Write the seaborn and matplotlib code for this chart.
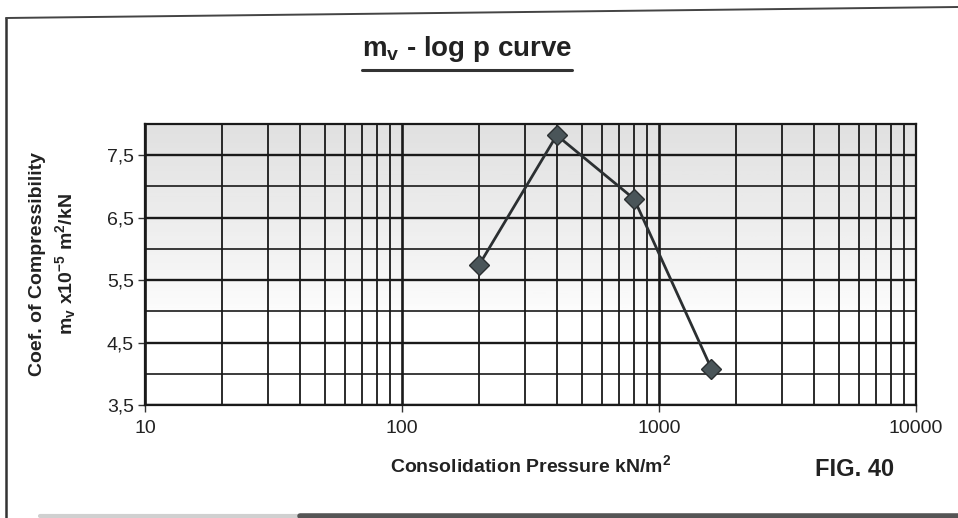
import numpy as np
import pandas as pd
import matplotlib
matplotlib.use("Agg")
import matplotlib.pyplot as plt
from matplotlib.lines import Line2D
from matplotlib.ticker import FixedLocator, NullFormatter
import seaborn as sns

# Consolidation test results
pressure = [200, 400, 800, 1600]          # kN/m^2
mv = [5.75, 7.82, 6.80, 4.08]             # x10^-5 m^2/kN

x_ticks = [10, 100, 1000, 10000]
x_tick_labels = ["10", "100", "1000", "10000"]
y_ticks = [3.5, 4.5, 5.5, 6.5, 7.5]
y_tick_labels = ["3,5", "4,5", "5,5", "6,5", "7,5"]

df = pd.DataFrame({"pressure": pressure, "mv": mv})

sns.set_theme(style="white")
plt.rcParams["font.family"] = ["Liberation Sans", "DejaVu Sans"]
plt.rcParams["mathtext.fontset"] = "custom"
plt.rcParams["mathtext.rm"] = "Liberation Sans:bold"
plt.rcParams["mathtext.it"] = "Liberation Sans:bold"
plt.rcParams["mathtext.bf"] = "Liberation Sans:bold"

W, H = 958, 518
fig = plt.figure(figsize=(W / 100, H / 100), dpi=100)
fig.patch.set_facecolor("white")
ax = fig.add_axes([145 / W, 1 - 405 / H, (916 - 145) / W, (405 - 124) / H])

# faint grey tone over the upper half of the grid
grad = np.linspace(0, 1, 200).reshape(-1, 1)
shade = np.clip((grad - 0.30) / 0.70, 0, 1) ** 0.8 * 0.20
rgba = np.zeros((200, 1, 4))
rgba[..., :3] = 0.40
rgba[..., 3] = shade
ax.imshow(rgba, extent=[10, 10000, 3.5, 8.0], aspect="auto", origin="lower",
          zorder=0, interpolation="bilinear")

sns.lineplot(data=df, x="pressure", y="mv", ax=ax, color="#2b2f31", lw=2.0,
             marker="D", markersize=10, markerfacecolor="#4a5559",
             markeredgecolor="#2b2f31", markeredgewidth=1.0, zorder=5)

ax.set_xscale("log")
ax.set_xlim(10, 10000)
ax.set_ylim(3.5, 8.0)

# log grid: every integer multiple inside each decade
vlines = [m * 10 ** e for e in range(1, 4) for m in range(1, 10)] + [10000]
for v in vlines:
    major = v in x_ticks
    ax.axvline(v, color="#1a1a1a", lw=1.9 if major else 1.3, zorder=1)
for h in np.arange(3.5, 8.01, 0.5):
    major = abs((h - 3.5) % 1.0) < 1e-6
    ax.axhline(h, color="#1a1a1a", lw=1.7 if major else 1.2, zorder=1)

ax.xaxis.set_major_locator(FixedLocator(x_ticks))
ax.xaxis.set_minor_locator(FixedLocator([]))
ax.xaxis.set_minor_formatter(NullFormatter())
ax.set_xticklabels(x_tick_labels)
ax.set_yticks(y_ticks)
ax.set_yticklabels(y_tick_labels)

ax.tick_params(axis="both", which="major", direction="out", length=5, width=1,
               color="#333333", labelsize=14, labelcolor="#222222",
               bottom=True, left=True)
ax.tick_params(axis="x", pad=6)
ax.tick_params(axis="y", pad=3)
for s in ax.spines.values():
    s.set_color("#1a1a1a")
    s.set_linewidth(1.6)

ax.set_xlabel("Consolidation Pressure kN/m$^{2}$", fontsize=14, fontweight="bold",
              color="#222222", labelpad=12)
ax.set_ylabel("Coef. of Compressibility\nm$_{v}$ x10$^{-5}$ m$^{2}$/kN", fontsize=14,
              fontweight="bold", color="#222222", labelpad=21, linespacing=1.35)

# title with underline
title = fig.text(467 / W, 1 - 49 / H, "m$_{v}$ - log p curve", ha="center", va="center",
                 fontsize=20, fontweight="bold", color="#222222")
fig.canvas.draw()
bb = title.get_window_extent().transformed(fig.transFigure.inverted())
fig.add_artist(Line2D([bb.x0, bb.x1], [1 - 70 / H, 1 - 70 / H], color="#333333", lw=2.2,
                      transform=fig.transFigure))

fig.text(855 / W, 1 - 470 / H, "FIG. 40", ha="center", va="center", fontsize=17,
         fontweight="bold", color="#222222")

# page frame
fig.add_artist(Line2D([6 / W, 6 / W], [0, 1 - 18 / H], color="#333333", lw=1.8,
                      transform=fig.transFigure))
fig.add_artist(Line2D([6 / W, 1.0], [1 - 18 / H, 1 - 7 / H], color="#444444", lw=1.4,
                      transform=fig.transFigure))
fig.add_artist(Line2D([40 / W, 300 / W], [1 - 516 / H, 1 - 516 / H], color="#d0d0d0",
                      lw=3.0, transform=fig.transFigure))
fig.add_artist(Line2D([300 / W, 1.0], [1 - 516 / H, 1 - 516 / H], color="#555555",
                      lw=4.0, transform=fig.transFigure))

fig.savefig("out.png", dpi=100, facecolor="white")
